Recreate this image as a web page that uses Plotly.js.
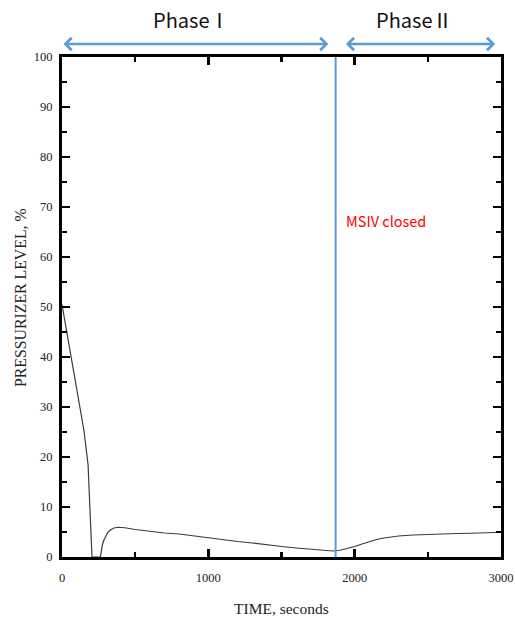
<!DOCTYPE html>
<html>
<head>
<meta charset="utf-8">
<script src="https://cdn.plot.ly/plotly-3.0.1.min.js"></script>
<style>html,body{margin:0;padding:0;background:#fff;}#chart{width:515px;height:622px;}</style>
</head>
<body>
<div id="chart"></div>
<script>
// Data
var timeSec = [0, 50, 100, 150, 178, 184, 192, 200, 205, 262, 268, 275, 285, 298, 312, 330, 355, 385, 430, 500, 600, 700, 800, 900, 1000, 1100, 1200, 1300, 1400, 1500, 1600, 1700, 1800, 1850, 1900, 1950, 2000, 2050, 2100, 2150, 2200, 2250, 2300, 2400, 2500, 2600, 2700, 2800, 2900, 3000];
var levelPct = [50.5, 42, 33.8, 25.3, 18.5, 14.5, 8, 2.5, 0, 0, 1.2, 2.3, 3.3, 4.2, 4.9, 5.4, 5.8, 5.95, 5.85, 5.5, 5.1, 4.8, 4.6, 4.2, 3.8, 3.5, 3.1, 2.8, 2.4, 2.1, 1.8, 1.5, 1.25, 1.2, 1.35, 1.7, 2.1, 2.6, 3.1, 3.5, 3.8, 4.05, 4.2, 4.4, 4.55, 4.65, 4.7, 4.75, 4.8, 4.95];
var msivTime = 1870;
var phaseLabels = ["Phase\u2160", "Phase\u2161"];
var phaseLabelX = [885, 2410];
var phaseStart = [0, 1930];
var phaseEnd = [1820, 2960];
var eventLabel = "MSIV closed";
var xTitle = "TIME, seconds";
var yTitle = "PRESSURIZER LEVEL, %";

var serif = "Liberation Serif, Times New Roman, serif";
var sans = "Noto Sans CJK KR, Noto Sans, sans-serif";
var blue = "#5b9bd5";

var traces = [{
  x: timeSec, y: levelPct, type: "scatter", mode: "lines",
  line: {color: "#3a3a3a", width: 1.2, shape: "linear"},
  hoverinfo: "skip", showlegend: false
}];

var annotations = [];
for (var i = 0; i < phaseLabels.length; i++) {
  annotations.push({
    x: phaseEnd[i], y: 1.026, xref: "x", yref: "paper",
    ax: phaseStart[i], ay: 0, axref: "x", ayref: "pixel",
    text: "", showarrow: true, arrowside: "end+start",
    arrowhead: 4, startarrowhead: 4, arrowsize: 1, startarrowsize: 1,
    arrowwidth: 2.4, arrowcolor: blue, standoff: 0, startstandoff: 0
  });
  annotations.push({
    x: phaseLabelX[i], y: 1.074, xref: "x", yref: "paper",
    text: phaseLabels[i], showarrow: false,
    font: {family: sans, size: 20, color: "#111"}, yanchor: "middle"
  });
}
annotations.push({
  x: msivTime + 60, y: 67.4, xref: "x", yref: "y", xanchor: "left", yanchor: "middle",
  text: eventLabel, showarrow: false,
  font: {family: sans, size: 14.5, color: "#ff0000"}
});
annotations.push({
  x: 0.5, y: -0.102, xref: "paper", yref: "paper", yanchor: "middle",
  text: xTitle, showarrow: false, font: {family: serif, size: 15.5, color: "#222"}
});
annotations.push({
  x: -0.0957, y: 0.52, xref: "paper", yref: "paper", textangle: -90,
  xanchor: "center", yanchor: "middle",
  text: yTitle, showarrow: false, font: {family: serif, size: 15.8, color: "#222"}
});

var layout = {
  width: 515, height: 622,
  margin: {l: 62, r: 14, t: 57, b: 65, pad: 0},
  paper_bgcolor: "#fff", plot_bgcolor: "#fff",
  showlegend: false,
  xaxis: {
    range: [0, 3000], tickvals: [0, 1000, 2000, 3000], ticks: "inside", ticklen: 8, tickwidth: 2.5,
    tickcolor: "#000", showline: true, linecolor: "#000", linewidth: 3, mirror: "ticks",
    showgrid: false, zeroline: false, ticklabelstandoff: 7,
    tickfont: {family: serif, size: 12.5, color: "#222"},
    minor: {tickvals: [500, 1500, 2500], ticks: "inside", ticklen: 5, tickwidth: 2.5, tickcolor: "#000", showgrid: false}
  },
  yaxis: {
    range: [0, 100], dtick: 10, tick0: 0, ticks: "inside", ticklen: 8, tickwidth: 2.5,
    tickcolor: "#000", showline: true, linecolor: "#000", linewidth: 3, mirror: "ticks",
    showgrid: false, zeroline: false, ticklabelstandoff: 4,
    tickfont: {family: serif, size: 12.5, color: "#222"},
    minor: {dtick: 5, ticks: "inside", ticklen: 5, tickwidth: 2.5, tickcolor: "#000", showgrid: false}
  },
  shapes: [{
    type: "line", xref: "x", yref: "paper", x0: msivTime, x1: msivTime, y0: 0, y1: 1,
    line: {color: blue, width: 2}
  }],
  annotations: annotations
};

Plotly.newPlot("chart", traces, layout, {displayModeBar: false, staticPlot: true});
</script>
</body>
</html>
